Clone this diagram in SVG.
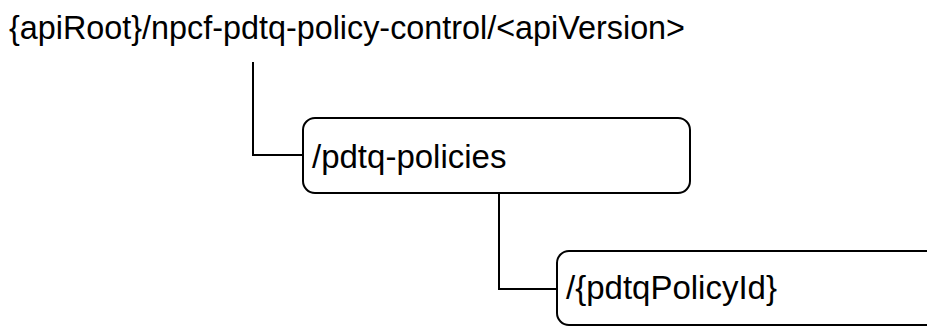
<svg xmlns="http://www.w3.org/2000/svg" width="927" height="327" viewBox="0 0 927 327">
<style>
.t{font-family:"Liberation Sans",Arial,sans-serif;font-size:33px;fill:#000}
.box{fill:#fff;stroke:#000;stroke-width:2}
.conn{fill:none;stroke:#000;stroke-width:2}
</style>
<rect width="927" height="327" fill="#fff"/>
<g id="connectors">
<path class="conn" d="M253 62 V155 H303"/>
<path class="conn" d="M499 193 V289 H557"/>
</g>
<g id="root">
<text class="t" x="9" y="39" textLength="676" lengthAdjust="spacingAndGlyphs">{apiRoot}/npcf-pdtq-policy-control/&lt;apiVersion&gt;</text>
</g>
<g id="pdtq-policies">
<rect class="box" x="303" y="118" width="387" height="75" rx="12" ry="12"/>
<text class="t" x="312" y="168">/pdtq-policies</text>
</g>
<g id="pdtqPolicyId">
<rect class="box" x="557" y="251" width="385" height="74" rx="12" ry="12"/>
<text class="t" x="566" y="299">/{pdtqPolicyId}</text>
</g>
</svg>
